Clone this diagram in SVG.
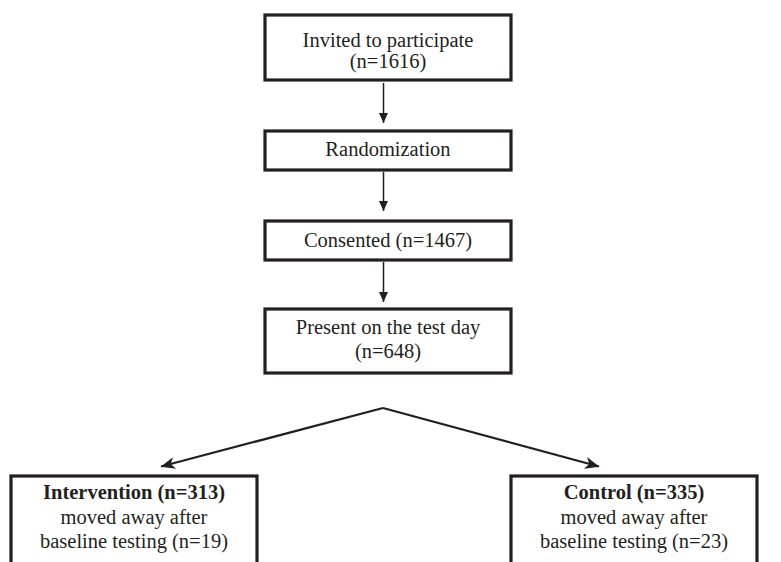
<svg xmlns="http://www.w3.org/2000/svg" width="781" height="562" viewBox="0 0 781 562">
<style>
.box{fill:#fff;stroke:#231f20;stroke-width:3.2}
.t{font-family:'Liberation Serif','Times New Roman',Tinos,'DejaVu Serif','Noto Serif',serif;font-size:20.5px;fill:#231f20;text-anchor:middle}
.b{font-weight:bold}
.v{stroke:#231f20;stroke-width:1.5;fill:none}
.d{stroke:#231f20;stroke-width:2.2;fill:none}
</style>
<defs>
<marker id="ah" markerUnits="userSpaceOnUse" viewBox="-11 -5 12 10" refX="0" refY="0" markerWidth="12" markerHeight="10" orient="auto">
<path d="M0,0 L-10,-4.5 L-10,4.5 Z" fill="#231f20"/>
</marker>
<marker id="bh" markerUnits="userSpaceOnUse" viewBox="-16 -7 17 14" refX="0" refY="0" markerWidth="17" markerHeight="14" orient="auto">
<path d="M0.5,0 L-14,-6 L-10,0 L-14,6 Z" fill="#231f20"/>
</marker>
</defs>
<rect width="781" height="562" fill="#fff"/>
<g id="connectors">
<line class="v" x1="383.5" y1="83" x2="383.5" y2="123" marker-end="url(#ah)"/>
<line class="v" x1="383.5" y1="172" x2="383.5" y2="211" marker-end="url(#ah)"/>
<line class="v" x1="383.5" y1="262" x2="383.5" y2="302" marker-end="url(#ah)"/>
<path class="d" d="M383,408 L161,466.5" marker-end="url(#bh)"/>
<path class="d" d="M383,408 L599,466.5" marker-end="url(#bh)"/>
</g>
<g id="invited">
<rect class="box" x="265" y="15" width="246" height="65"/>
<text class="t" x="388" y="47" font-family="Liberation Serif">Invited to participate</text>
<text class="t" x="388" y="68" font-family="Liberation Serif">(n=1616)</text>
</g>
<g id="randomization">
<rect class="box" x="265" y="131" width="246" height="39"/>
<text class="t" x="388" y="155.5" font-family="Liberation Serif">Randomization</text>
</g>
<g id="consented">
<rect class="box" x="265" y="221" width="246" height="39"/>
<text class="t" x="388" y="247" font-family="Liberation Serif">Consented (n=1467)</text>
</g>
<g id="present">
<rect class="box" x="265" y="309" width="246" height="64"/>
<text class="t" x="388" y="333.5" font-family="Liberation Serif">Present on the test day</text>
<text class="t" x="388" y="358" font-family="Liberation Serif">(n=648)</text>
</g>
<g id="intervention">
<rect class="box" x="11" y="476" width="246" height="100"/>
<text class="t b" x="134" y="499" font-family="Liberation Serif">Intervention (n=313)</text>
<text class="t" x="134" y="523.5" font-family="Liberation Serif">moved away after</text>
<text class="t" x="134" y="548" font-family="Liberation Serif">baseline testing (n=19)</text>
</g>
<g id="control">
<rect class="box" x="511" y="476" width="246" height="100"/>
<text class="t b" x="634" y="499" font-family="Liberation Serif">Control (n=335)</text>
<text class="t" x="634" y="523.5" font-family="Liberation Serif">moved away after</text>
<text class="t" x="634" y="548" font-family="Liberation Serif">baseline testing (n=23)</text>
</g>
</svg>
